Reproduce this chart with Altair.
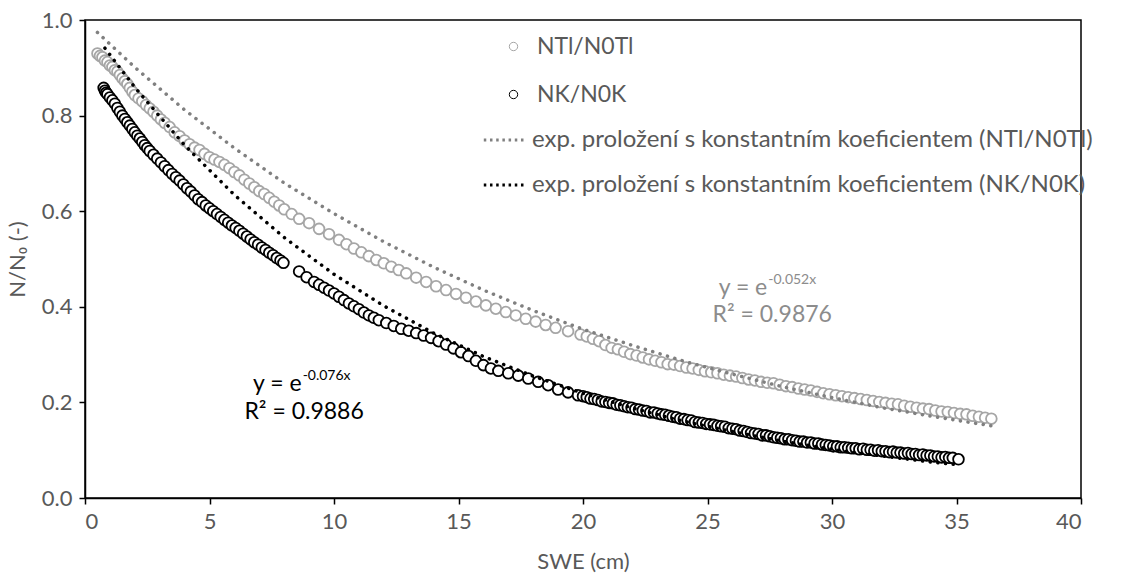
import altair as alt
import pandas as pd

FONT = "Lato"
TXT = "#595959"

# --- NTl/N0Tl measured ratio (grey circles)
tl_x = [0.5, 0.6, 0.7, 0.8, 0.9, 1.0, 1.1, 1.2, 1.3, 1.4, 1.5, 1.6, 1.7, 1.8, 1.9, 2.0,
        2.15, 2.3, 2.45, 2.6, 2.75, 2.9, 3.05, 3.2, 3.4, 3.6, 3.8, 4.0, 4.2, 4.4, 4.6, 4.8,
        5.0, 5.2, 5.4, 5.6, 5.8, 6.0, 6.2, 6.4, 6.6, 6.8, 7.0, 7.2, 7.4, 7.6, 7.8, 8.0,
        8.3, 8.6, 9.0, 9.4, 9.8, 10.2, 10.5, 10.8, 11.1, 11.4, 11.7, 12.0, 12.3, 12.6, 12.9,
        13.3, 13.7, 14.1, 14.5, 14.9, 15.3, 15.7, 16.1, 16.5, 16.9, 17.3, 17.7, 18.1, 18.5,
        18.9, 19.4, 19.9,
        20.15, 20.4, 20.65, 20.9, 21.15, 21.4, 21.65, 21.9, 22.15, 22.4, 22.65, 22.9, 23.15,
        23.4, 23.65, 23.9, 24.15, 24.4, 24.65, 24.9, 25.15, 25.4, 25.65, 25.9, 26.15, 26.4,
        26.65, 26.9, 27.15, 27.4, 27.65, 27.9, 28.15, 28.4, 28.65, 28.9, 29.15, 29.4, 29.65,
        29.9, 30.15, 30.4, 30.65, 30.9, 31.15, 31.4, 31.65, 31.9, 32.15, 32.4, 32.65, 32.9,
        33.15, 33.4, 33.65, 33.9, 34.15, 34.4, 34.65, 34.9, 35.15, 35.4, 35.65, 35.9, 36.15,
        36.4]
tl_y = [0.930, 0.925, 0.922, 0.915, 0.912, 0.905, 0.902, 0.895, 0.892, 0.885, 0.878, 0.872,
        0.866, 0.858, 0.850, 0.843, 0.836, 0.830, 0.822, 0.815, 0.808, 0.800, 0.792, 0.785,
        0.776, 0.765, 0.757, 0.748, 0.740, 0.733, 0.728, 0.720, 0.713, 0.708, 0.703, 0.697,
        0.690, 0.682, 0.675, 0.666, 0.658, 0.650, 0.642, 0.636, 0.628, 0.620, 0.612, 0.604,
        0.594, 0.584, 0.575, 0.563, 0.552, 0.540, 0.531, 0.522, 0.514, 0.506, 0.498, 0.491,
        0.484, 0.477, 0.470, 0.461, 0.452, 0.443, 0.435, 0.427, 0.419, 0.411, 0.403, 0.396,
        0.389, 0.382, 0.375, 0.369, 0.362, 0.356, 0.349, 0.342,
        0.338, 0.333, 0.328, 0.320, 0.314, 0.311, 0.306, 0.301, 0.298, 0.294, 0.290, 0.287,
        0.284, 0.280, 0.279, 0.276, 0.273, 0.271, 0.268, 0.265, 0.263, 0.261, 0.258, 0.256,
        0.254, 0.251, 0.248, 0.246, 0.243, 0.241, 0.240, 0.237, 0.234, 0.232, 0.229, 0.227,
        0.225, 0.222, 0.219, 0.217, 0.215, 0.213, 0.211, 0.209, 0.207, 0.205, 0.203, 0.201,
        0.199, 0.197, 0.196, 0.193, 0.191, 0.189, 0.187, 0.186, 0.183, 0.181, 0.180, 0.178,
        0.176, 0.175, 0.172, 0.170, 0.168, 0.166]

# --- NK/N0K measured ratio (black circles)
k_x = [0.75, 0.8, 0.85, 0.9, 1.0, 1.1, 1.2, 1.3, 1.4, 1.5, 1.6, 1.7, 1.8, 1.9, 2.0, 2.1,
       2.2, 2.3, 2.4, 2.5, 2.6, 2.75, 2.9, 3.05, 3.2, 3.35, 3.5, 3.65, 3.8, 3.95, 4.1, 4.25,
       4.4, 4.55, 4.7, 4.85, 5.0, 5.15, 5.3, 5.45, 5.6, 5.75, 5.9, 6.05, 6.2, 6.35, 6.5,
       6.65, 6.8, 6.95, 7.1, 7.25, 7.4, 7.55, 7.7, 7.85, 7.97, 8.6, 8.9, 9.2, 9.4, 9.6, 9.8,
       10.0, 10.2, 10.4, 10.6, 10.8, 11.0, 11.2, 11.4, 11.6, 11.8, 12.1, 12.4, 12.7, 13.0,
       13.3, 13.6, 13.9, 14.2, 14.5, 14.8, 15.1, 15.4, 15.7, 16.0, 16.3, 16.6, 17.0, 17.4,
       17.8, 18.2, 18.6, 19.0, 19.4, 19.8,
       20.0, 20.15, 20.3, 20.45, 20.6, 20.75, 20.9, 21.05, 21.2, 21.35, 21.5, 21.65, 21.8,
       21.95, 22.1, 22.25, 22.4, 22.55, 22.7, 22.85, 23.0, 23.15, 23.3, 23.45, 23.6, 23.75,
       23.9, 24.05, 24.2, 24.35, 24.5, 24.65, 24.8, 24.95, 25.1, 25.25, 25.4, 25.55, 25.7,
       25.85, 26.0, 26.15, 26.3, 26.45, 26.6, 26.75, 26.9, 27.05, 27.2, 27.35, 27.5, 27.65,
       27.8, 27.95, 28.1, 28.25, 28.4, 28.55, 28.7, 28.85, 29.0, 29.15, 29.3, 29.45, 29.6,
       29.75, 29.9, 30.05, 30.2, 30.35, 30.5, 30.65, 30.8, 30.95, 31.1, 31.25, 31.4, 31.55,
       31.7, 31.85, 32.0, 32.15, 32.3, 32.45, 32.6, 32.75, 32.9, 33.05, 33.2, 33.35, 33.5,
       33.65, 33.8, 33.95, 34.1, 34.25, 34.4, 34.55, 34.7, 34.85, 35.08]
k_y = [0.858, 0.852, 0.848, 0.845, 0.838, 0.832, 0.825, 0.816, 0.808, 0.800, 0.793, 0.786,
       0.779, 0.772, 0.765, 0.758, 0.752, 0.745, 0.738, 0.732, 0.726, 0.718, 0.710, 0.702,
       0.694, 0.686, 0.678, 0.671, 0.664, 0.656, 0.648, 0.641, 0.633, 0.625, 0.619, 0.612,
       0.606, 0.600, 0.594, 0.588, 0.582, 0.576, 0.570, 0.565, 0.559, 0.553, 0.547, 0.541,
       0.535, 0.530, 0.524, 0.519, 0.513, 0.508, 0.502, 0.497, 0.492, 0.474, 0.462, 0.452,
       0.446, 0.440, 0.434, 0.428, 0.421, 0.414, 0.407, 0.401, 0.395, 0.388, 0.382, 0.377,
       0.372, 0.366, 0.360, 0.354, 0.350, 0.345, 0.340, 0.335, 0.328, 0.321, 0.313, 0.305,
       0.297, 0.287, 0.278, 0.271, 0.266, 0.261, 0.256, 0.250, 0.243, 0.236, 0.227, 0.221,
       0.215,
       0.213, 0.211, 0.208, 0.207, 0.205, 0.202, 0.201, 0.199, 0.198, 0.195, 0.194, 0.192,
       0.190, 0.189, 0.186, 0.185, 0.183, 0.182, 0.179, 0.179, 0.177, 0.175, 0.174, 0.172,
       0.170, 0.169, 0.166, 0.165, 0.163, 0.162, 0.159, 0.158, 0.157, 0.155, 0.154, 0.153,
       0.151, 0.150, 0.149, 0.146, 0.145, 0.144, 0.141, 0.140, 0.138, 0.136, 0.135, 0.134,
       0.131, 0.131, 0.129, 0.127, 0.126, 0.125, 0.123, 0.123, 0.121, 0.120, 0.118, 0.118,
       0.116, 0.116, 0.114, 0.114, 0.112, 0.111, 0.110, 0.108, 0.108, 0.106, 0.106, 0.105,
       0.104, 0.104, 0.102, 0.103, 0.101, 0.101, 0.099, 0.100, 0.098, 0.098, 0.096, 0.097,
       0.095, 0.095, 0.093, 0.094, 0.092, 0.092, 0.090, 0.091, 0.089, 0.089, 0.087, 0.087,
       0.085, 0.086, 0.084, 0.084, 0.081]

# --- fitted exponential trend lines
fit_tl_x = [0.5, 2, 4, 6, 8, 10, 12, 14, 16, 18, 20, 22, 24, 26, 28, 30, 32, 34, 36.5]
fit_tl_y = [0.974, 0.901, 0.812, 0.732, 0.659, 0.595, 0.536, 0.483, 0.435, 0.392, 0.353,
            0.319, 0.287, 0.259, 0.233, 0.210, 0.189, 0.171, 0.150]
fit_k_x = [0.8, 2, 4, 6, 8, 10, 12, 14, 16, 18, 20, 22, 24, 26, 28, 30, 32, 34, 35]
fit_k_y = [0.941, 0.859, 0.738, 0.634, 0.545, 0.468, 0.402, 0.345, 0.296, 0.255, 0.219,
           0.188, 0.161, 0.139, 0.119, 0.102, 0.088, 0.075, 0.070]

series_names = ["NTl/N0Tl", "NK/N0K"]
fit_names = ["exp. proložení s konstantním koeficientem (NTl/N0Tl)",
             "exp. proložení s konstantním koeficientem (NK/N0K)"]

# annotation text (equations)
eq_main = ["y = e", "y = e"]
eq_sup = ["-0.052x", "-0.076x"]
eq_x = [27.4, 8.7]
eq_y = [0.440, 0.239]
r2_text = ["R² = 0.9876", "R² = 0.9886"]
r2_x = [27.6, 8.8]
r2_y = [0.383, 0.180]
eq_color = ["#8C8C8C", "#000000"]

pts = pd.DataFrame({
    "x": tl_x + k_x,
    "y": tl_y + k_y,
    "s": [series_names[0]] * len(tl_x) + [series_names[1]] * len(k_x),
})
fits = pd.DataFrame({
    "x": fit_tl_x + fit_k_x,
    "y": fit_tl_y + fit_k_y,
    "f": [fit_names[0]] * len(fit_tl_x) + [fit_names[1]] * len(fit_k_x),
})
eqs = pd.DataFrame({"x": eq_x, "y": eq_y, "m": eq_main, "s": eq_sup, "c": eq_color})
r2 = pd.DataFrame({"x": r2_x, "y": r2_y, "t": r2_text, "c": eq_color})

xs = alt.Scale(domain=[0, 40], nice=False)
ys = alt.Scale(domain=[0, 1], nice=False)
X = alt.X("x:Q", scale=xs, title="SWE (cm)",
          axis=alt.Axis(values=list(range(0, 41, 5)), titlePadding=19))
Y = alt.Y("y:Q", scale=ys, title="N/N₀ (-)",
          axis=alt.Axis(values=[0, 0.2, 0.4, 0.6, 0.8, 1.0], format=".1f", titlePadding=12))

points = alt.Chart(pts).mark_point(
    shape="circle", filled=False, fill="white", fillOpacity=1, size=115, strokeWidth=1.8, opacity=1
).encode(
    x=X, y=Y,
    color=alt.Color("s:N", scale=alt.Scale(domain=series_names, range=["#A6A6A6", "#000000"]),
                    legend=alt.Legend(orient="none", legendX=417, legendY=15, title=None,
                                      symbolType="circle", symbolSize=70, symbolStrokeWidth=1,
                                      labelFont=FONT, labelFontSize=23, labelColor=TXT,
                                      rowPadding=24, labelOffset=12, padding=0)),
)

lines = alt.Chart(fits).mark_line(
    strokeWidth=3.5, strokeDash=[0.1, 7.6], strokeCap="round"
).encode(
    x="x:Q", y="y:Q",
    color=alt.Color("f:N", scale=alt.Scale(domain=fit_names, range=["#808080", "#000000"]),
                    legend=alt.Legend(orient="none", legendX=397, legendY=97, title=None,
                                      symbolType="stroke", symbolSize=1800, symbolStrokeWidth=3,
                                      symbolDash=[2.5, 3.7], labelFont=FONT, labelFontSize=24,
                                      labelColor=TXT, rowPadding=10, labelOffset=4, padding=0)),
)

eq_m = alt.Chart(eqs).mark_text(align="right", baseline="middle", font=FONT, fontSize=23).encode(
    x="x:Q", y="y:Q", text="m:N", color=alt.Color("c:N", scale=None))
eq_s = alt.Chart(eqs).mark_text(align="left", baseline="middle", font=FONT, fontSize=14, dy=-8, dx=1).encode(
    x="x:Q", y="y:Q", text="s:N", color=alt.Color("c:N", scale=None))
r2_t = alt.Chart(r2).mark_text(align="center", baseline="middle", font=FONT, fontSize=23).encode(
    x="x:Q", y="y:Q", text="t:N", color=alt.Color("c:N", scale=None))

chart = alt.layer(points, lines, eq_m, eq_s, r2_t).resolve_scale(color="independent").properties(
    width=996, height=478,
    autosize=alt.AutoSizeParams(type="none"),
    padding={"left": 85, "top": 20, "right": 65, "bottom": 77},
).configure_view(
    stroke="#000000", strokeWidth=1.5
).configure_axis(
    grid=False, labelFont=FONT, labelFontSize=22, labelColor=TXT,
    titleFont=FONT, titleFontSize=22, titleColor=TXT, titleFontWeight="normal",
    domainColor="#000000", domainWidth=1.5, tickColor="#000000", tickWidth=1.5,
    tickSize=6, labelPadding=7,
).configure_legend(labelLimit=800)

chart.save("out.html", embed_options={"renderer": "svg", "actions": False})
